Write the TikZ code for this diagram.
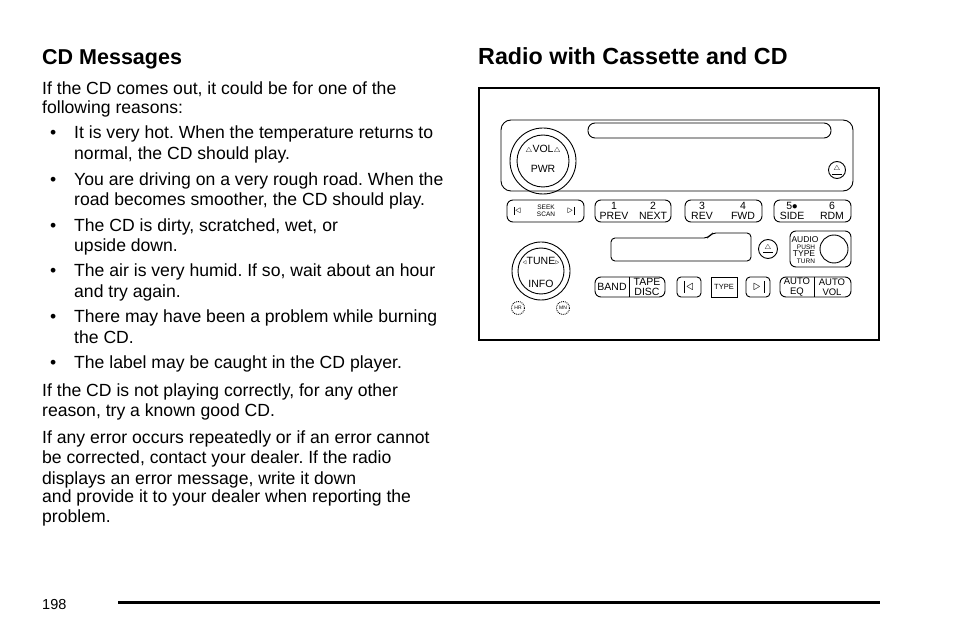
\documentclass[tikz,border=0pt]{standalone}
\usepackage{fontspec}
\setmainfont{Liberation Sans}
\frenchspacing
\begin{document}
\begin{tikzpicture}[x=1pt,y=-1pt,
 body/.style={anchor=base west,inner sep=0pt,font=\fontsize{17.6}{18}\selectfont},
 lab/.style={inner sep=0pt,font=\fontsize{10.5}{10}\selectfont,align=center},
 tiny/.style={inner sep=0pt,font=\fontsize{6.5}{6.5}\selectfont,align=center},
 pan/.style={draw,line width=0.9pt,rounded corners=6pt},
 ln/.style={draw,line width=0.9pt}]
\useasboundingbox (0,0) rectangle (954,636);
\node[anchor=base west,inner sep=0pt,font=\fontsize{21.5}{22}\bfseries\selectfont] (h1) at (42,65) {CD Messages};
\node[anchor=base west,inner sep=0pt,font=\fontsize{23.3}{26}\bfseries\selectfont] (h2) at (478,65) {Radio with Cassette and CD};
\foreach \t/\y [count=\i] in {If the CD comes out{,} it could be for one of the/95, following reasons:/114,
 If the CD is not playing correctly{,} for any other/397, reason{,} try a known good CD./417,
 If any error occurs repeatedly or if an error cannot/444, be corrected{,} contact your dealer. If the radio/464,
 displays an error message{,} write it down/484, and provide it to your dealer when reporting the/502, problem./522}
 \node[body] (p\i) at (42,\y) {\t};
\foreach \t/\y [count=\i] in {It is very hot. When the temperature returns to/139, normal{,} the CD should play./160,
 You are driving on a very rough road. When the/186, road becomes smoother{,} the CD should play./206,
 The CD is dirty{,} scratched{,} wet{,} or/232, upside down./252,
 The air is very humid. If so{,} wait about an hour/277, and try again./298,
 There may have been a problem while burning/323, the CD./344,
 The label may be caught in the CD player./369}
 \node[body] (b\i) at (74,\y) {\t};
\foreach \y [count=\i] in {139,186,232,277,323,369}
 \node[body] (d\i) at (50,\y) {\textbullet};
\node[body,font=\fontsize{14.5}{15}\selectfont] (pg) at (42,609) {198};
\draw[line width=3pt] (118,602) coordinate (r1) -- (880,602) coordinate (r2);
% radio
\draw[line width=1.3pt] (479,88) rectangle (879,340);
\draw[pan,rounded corners=10pt] (501,120) rectangle (853,191);
\draw[ln,rounded corners=7pt] (588,123) rectangle (831,138);
\draw[ln] (543,161) circle (33); \draw[ln] (543,161) circle (26);
\node[lab] (vol) at (543,150) {$\scriptstyle\triangle$VOL$\scriptstyle\triangle$};
\node[lab] (pwr) at (543,169) {PWR};
\draw[ln] (837,170) circle (8.5);
\node[lab] (ej1) at (837,168.5) {$\scriptstyle\triangle$};
\draw[ln] (832,174) -- (842,174);
% preset row
\draw[pan] (507,200) rectangle (584,222);
\node[lab] (sk) at (518,211) {$\triangleleft$};
\draw[ln] (514,207) -- (514,215);
\node[tiny] (ss) at (546,211) {SEEK\\SCAN};
\node[lab] (sk2) at (570,211) {$\triangleright$};
\draw[ln] (574,207) -- (574,215);
\draw[pan] (595,200) rectangle (671,222);
\node[lab] (b1) at (614,211) {1\\PREV}; \node[lab] (b2) at (653,211) {2\\NEXT};
\draw[pan] (685,200) rectangle (762,222);
\node[lab] (b3) at (702,211) {3\\REV}; \node[lab] (b4) at (743,211) {4\\FWD};
\draw[pan] (774,200) rectangle (851,222);
\node[lab] (b5) at (792,211) {5$\bullet$\\SIDE}; \node[lab] (b6) at (832,211) {6\\RDM};
% cassette
\draw[ln,rounded corners=4pt] (611,238) -- (708,238) -- (712,233) -- (751,233) -- (751,261) -- (611,261) -- cycle;
\draw[ln] (768,249) circle (9.5);
\node[lab] (ej2) at (768,247.5) {$\scriptstyle\triangle$};
\draw[ln] (763,252) -- (773,252);
\draw[pan] (790,231) rectangle (851,267);
\draw[ln] (834,249) circle (14);
\node[lab,font=\fontsize{8.5}{8.5}\selectfont] (au) at (805,240) {AUDIO};
\node[tiny] (pu) at (806,247) {PUSH};
\node[lab,font=\fontsize{8.5}{8.5}\selectfont] (ty) at (804,254) {TYPE};
\node[tiny] (tu) at (806,261) {TURN};
% tune
\draw[ln] (541,271) circle (29); \draw[ln] (541,271) circle (23);
\node[lab] (tn) at (541,261) {$\scriptstyle\triangleleft$TUNE$\scriptstyle\triangleright$};
\node[lab] (inf) at (541,284) {INFO};
\draw[ln,densely dotted] (518,308) circle (6.5); \node[tiny,font=\fontsize{5}{5}\selectfont] (hr) at (518,308) {HR};
\draw[ln,densely dotted] (563,308) circle (6.5); \node[tiny,font=\fontsize{5}{5}\selectfont] (mn) at (563,308) {MN};
% bottom row
\draw[pan] (595,277) rectangle (665,297); \draw[ln] (629,277) -- (629,297);
\node[lab] (band) at (612,287) {BAND}; \node[lab] (tape) at (647,287) {TAPE\\DISC};
\draw[pan,rounded corners=4pt] (677,277) rectangle (701,297);
\node[lab,font=\fontsize{15}{15}\selectfont] (pv) at (690,287) {$\triangleleft$};
\draw[ln] (684,281) -- (684,293);
\draw[ln] (711,277) rectangle (737,297);
\node[tiny,font=\fontsize{7.5}{7.5}\selectfont] (tp) at (724,287) {TYPE};
\draw[pan,rounded corners=4pt] (746,277) rectangle (770,297);
\node[lab,font=\fontsize{15}{15}\selectfont] (nx) at (757,287) {$\triangleright$};
\draw[ln] (764,281) -- (764,293);
\draw[pan] (780,277) rectangle (851,297); \draw[ln] (814,277) -- (814,297);
\node[lab,font=\fontsize{9.5}{9.5}\selectfont] (aeq) at (797,287) {AUTO\\EQ}; \node[lab,font=\fontsize{9.5}{9.5}\selectfont] (avol) at (832,287) {AUTO\\VOL};
\end{tikzpicture}
\end{document}
